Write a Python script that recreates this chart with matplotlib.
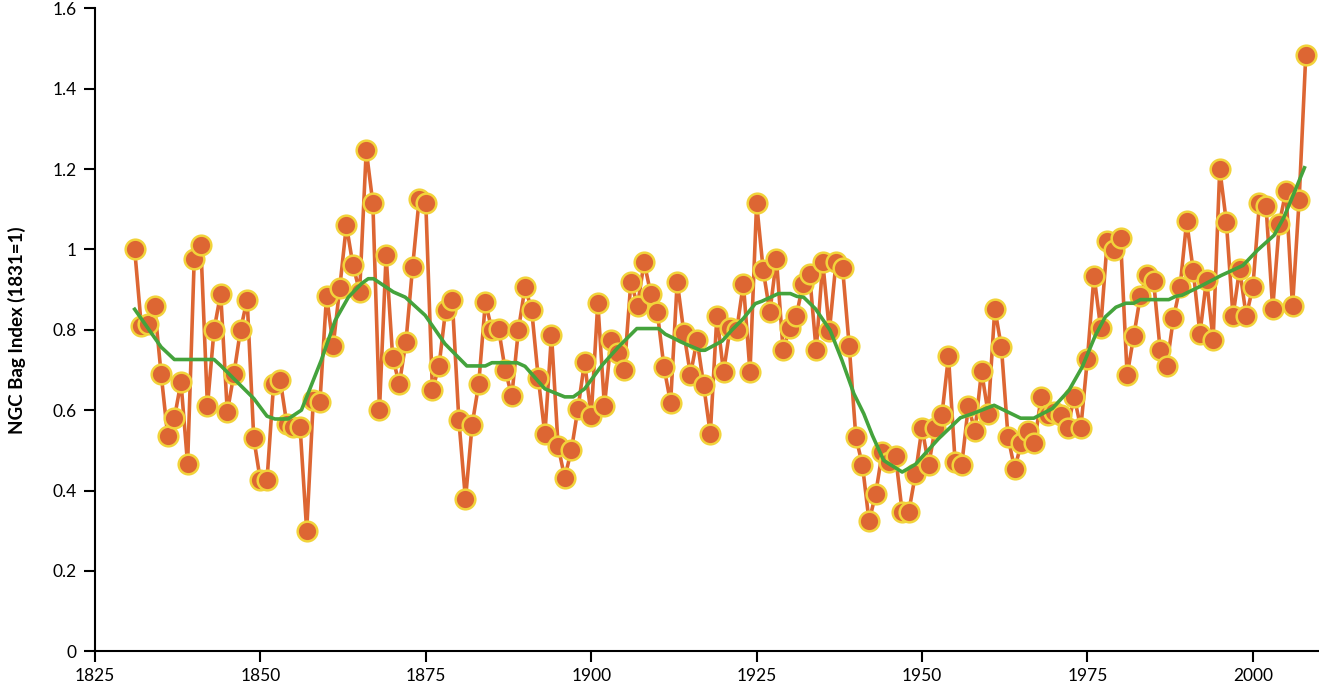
import numpy as np
import matplotlib
matplotlib.use("Agg")
import matplotlib.pyplot as plt
from matplotlib.ticker import FuncFormatter

# Annual index values, 1831-2008
years = np.arange(1831, 2009)
bag_index = [
    1.00, 0.81, 0.815, 0.86, 0.69, 0.535, 0.58, 0.67, 0.465, 0.975,   # 1831-1840
    1.01, 0.61, 0.80, 0.89, 0.595, 0.69, 0.80, 0.875, 0.53, 0.425,    # 1841-1850
    0.425, 0.665, 0.675, 0.565, 0.558, 0.558, 0.30, 0.625, 0.62, 0.885,  # 1851-1860
    0.76, 0.905, 1.06, 0.96, 0.895, 1.247, 1.115, 0.60, 0.985, 0.73,  # 1861-1870
    0.665, 0.77, 0.955, 1.125, 1.115, 0.65, 0.71, 0.85, 0.875, 0.575, # 1871-1880
    0.378, 0.563, 0.665, 0.868, 0.80, 0.803, 0.70, 0.635, 0.80, 0.906,  # 1881-1890
    0.85, 0.68, 0.54, 0.788, 0.51, 0.432, 0.50, 0.604, 0.72, 0.585,   # 1891-1900
    0.867, 0.61, 0.775, 0.742, 0.70, 0.92, 0.86, 0.968, 0.89, 0.843,  # 1901-1910
    0.707, 0.618, 0.92, 0.793, 0.688, 0.775, 0.662, 0.541, 0.835, 0.695,  # 1911-1920
    0.805, 0.80, 0.915, 0.695, 1.115, 0.948, 0.843, 0.976, 0.75, 0.804,  # 1921-1930
    0.834, 0.914, 0.938, 0.749, 0.968, 0.797, 0.968, 0.953, 0.759, 0.533,  # 1931-1940
    0.463, 0.323, 0.392, 0.496, 0.47, 0.486, 0.347, 0.347, 0.44, 0.556,  # 1941-1950
    0.463, 0.556, 0.587, 0.734, 0.471, 0.463, 0.61, 0.548, 0.697, 0.591,  # 1951-1960
    0.852, 0.757, 0.533, 0.454, 0.517, 0.547, 0.517, 0.633, 0.587, 0.595,  # 1961-1970
    0.587, 0.556, 0.633, 0.556, 0.728, 0.935, 0.804, 1.022, 0.998, 1.029,  # 1971-1980
    0.687, 0.784, 0.884, 0.937, 0.921, 0.749, 0.711, 0.829, 0.906, 1.07,   # 1981-1990
    0.946, 0.79, 0.925, 0.774, 1.20, 1.068, 0.834, 0.952, 0.834, 0.906,   # 1991-2000
    1.115, 1.107, 0.852, 1.064, 1.145, 0.858, 1.124, 1.483,              # 2001-2008
]

# Smoothed trend line
trend_years = [1831, 1835, 1837, 1843, 1844, 1846, 1849, 1851, 1852.2, 1854.2,
               1856.2, 1859.2, 1861.3, 1863.3, 1865.3, 1866.3, 1867.1, 1870.1,
               1871.9, 1874.9, 1877.9, 1881.2, 1884, 1885, 1888.8, 1890, 1893,
               1896, 1897.3, 1899, 1901.6, 1904.1, 1906.9, 1910.2, 1911.2,
               1914.2, 1916.5, 1917.2, 1919.8, 1921.3, 1923, 1924.8, 1925.8,
               1928.3, 1930.1, 1931.1, 1932.1, 1933.9, 1936.1, 1937.9, 1939.7,
               1941.2, 1942.5, 1944.2, 1947, 1949, 1952.5, 1955.8, 1957.6,
               1960.9, 1964.9, 1966.9, 1969.7, 1972.2, 1974.2, 1976.2, 1977.7,
               1979.3, 1980.8, 1982, 1983, 1987.3, 1988.3, 1989.3, 1992.3,
               1995.2, 1998.5, 2000.7, 2003.2, 2004.7, 2006.2, 2007.8]
trend_vals = [0.851, 0.757, 0.726, 0.726, 0.711, 0.678, 0.629, 0.585, 0.578, 0.578,
              0.60, 0.724, 0.823, 0.881, 0.915, 0.927, 0.927, 0.894,
              0.881, 0.836, 0.765, 0.71, 0.71, 0.718, 0.718, 0.709, 0.653,
              0.633, 0.633, 0.653, 0.711, 0.757, 0.803, 0.803, 0.789,
              0.765, 0.749, 0.749, 0.772, 0.80, 0.828, 0.865, 0.871,
              0.89, 0.89, 0.883, 0.881, 0.852, 0.799, 0.724, 0.641,
              0.591, 0.537, 0.475, 0.446, 0.465, 0.529, 0.581, 0.591,
              0.612, 0.58, 0.58, 0.604, 0.649, 0.707, 0.786, 0.832,
              0.856, 0.866, 0.866, 0.875, 0.875, 0.883, 0.886, 0.91,
              0.935, 0.96, 0.998, 1.035, 1.08, 1.139, 1.203]

y_ticks = [0, 0.2, 0.4, 0.6, 0.8, 1.0, 1.2, 1.4, 1.6]
x_ticks = [1825, 1850, 1875, 1900, 1925, 1950, 1975, 2000]

plt.rcParams['font.family'] = ['Lato', 'DejaVu Sans']

fig = plt.figure(figsize=(13.19, 6.87), dpi=100, facecolor="white")
ax = fig.add_axes([0.072, 0.052, 0.928, 0.936])

ax.plot(years, bag_index, c="#DD6633", lw=2.6, zorder=2)
ax.scatter(years, bag_index, s=200, c="#DD6633", edgecolors="#F2D33A",
           linewidths=1.8, zorder=3)
ax.plot(trend_years, trend_vals, c="#44A33C", lw=2.6, zorder=4)

ax.set_xlim(1825, 2010)
ax.set_ylim(0, 1.6)
ax.set_xticks(x_ticks)
ax.set_yticks(y_ticks)
ax.yaxis.set_major_formatter(FuncFormatter(lambda v, p: "%g" % v))

for side in ["top", "right"]:
    ax.spines[side].set_visible(False)
for side in ["left", "bottom"]:
    ax.spines[side].set_linewidth(1.5)
    ax.spines[side].set_color("black")

ax.tick_params(axis="both", length=8, width=1.5, labelsize=12.5, direction="out")
ax.tick_params(axis="y", pad=5)
ax.tick_params(axis="x", pad=4)
ax.set_ylabel("NGC Bag Index (1831=1)", fontsize=13.5, fontweight="bold", labelpad=19)

fig.savefig("out.png", dpi=100, facecolor="white")
